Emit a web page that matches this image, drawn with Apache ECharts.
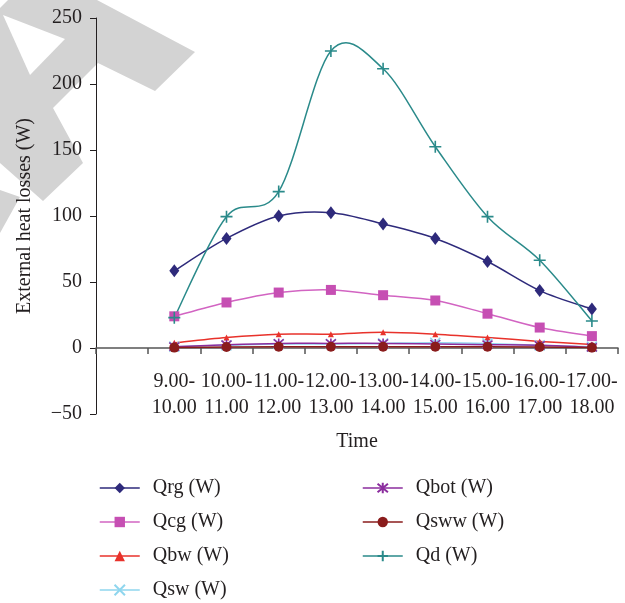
<!DOCTYPE html>
<html>
<head>
<meta charset="utf-8">
<script src="https://cdn.jsdelivr.net/npm/echarts@6/dist/echarts.min.js"></script>
<style>html,body{margin:0;padding:0;background:#fff;}#c{width:625px;height:603px;}</style>
</head>
<body>
<div id="c"></div>
<script>
const categories = ['9.00-\n10.00','10.00-\n11.00','11.00-\n12.00','12.00-\n13.00','13.00-\n14.00','14.00-\n15.00','15.00-\n16.00','16.00-\n17.00','17.00-\n18.00'];
const Qrg  = [58.5, 83, 100, 102.5, 94, 83, 65.5, 43.5, 29.5];
const Qcg  = [24, 34.5, 42, 44, 40, 36, 26, 15.5, 9];
const Qbw  = [4, 8, 10.5, 10.5, 12, 10.5, 8, 5, 2.7];
const Qsw  = [1, 2, 3, 3, 3.5, 4, 3.5, 2, 1];
const Qbot = [1, 2.5, 3.5, 3.5, 3.5, 3, 2.5, 2, 0.5];
const Qsww = [0.3, 0.8, 1, 1, 1, 1, 1, 0.8, 0.3];
const Qd   = [23, 99.5, 118.5, 225, 211.5, 152.5, 99.5, 66.5, 20.5];
const yTicks = {min: -50, max: 250, interval: 50};

const FONT = 'Liberation Serif';
const TXT = '#231f20';

const xCats = [''].concat(categories);
function pad(arr){ return ['-'].concat(arr); }

// Excel-like smoothed curve (Catmull-Rom Bezier) drawn through the axis scales
function curveSeries(data, color, width){
  return {
    type: 'custom', coordinateSystem: 'cartesian2d', silent: true,
    data: data.map((v, k) => [k + 1, v]),
    encode: {x: 0, y: 1},
    renderItem: function(params, api){
      if (params.dataIndex !== 0) return null;
      const p = data.map((v, k) => api.coord([k + 1, v]));
      let d = 'M' + p[0][0] + ' ' + p[0][1];
      for (let i = 0; i < p.length - 1; i++) {
        const p0 = p[Math.max(i - 1, 0)], p1 = p[i], p2 = p[i + 1], p3 = p[Math.min(i + 2, p.length - 1)];
        const c1x = p1[0] + (p2[0] - p0[0]) / 6, c1y = p1[1] + (p2[1] - p0[1]) / 6;
        const c2x = p2[0] - (p3[0] - p1[0]) / 6, c2y = p2[1] - (p3[1] - p1[1]) / 6;
        d += ' C' + c1x + ' ' + c1y + ' ' + c2x + ' ' + c2y + ' ' + p2[0] + ' ' + p2[1];
      }
      return {type: 'path', shape: {pathData: d}, style: {stroke: color, lineWidth: width, fill: null}};
    }
  };
}

function mk(name, data, color, lineColor, symbol, size, strokeSym){
  return {
    name: name, type: 'line', data: pad(data),
    symbol: symbol, symbolSize: size, showAllSymbol: true,
    lineStyle: {color: lineColor, width: 1.5, opacity: 0},
    itemStyle: strokeSym ? {color: color, borderColor: color, borderWidth: 1.6} : {color: color, borderWidth: 0},
    emphasis: {disabled: true}
  };
}
const PLUS = 'path://M5,0L5,10M0,5L10,5';
const XSYM = 'path://M0,0L10,10M10,0L0,10';
const AST = 'path://M5,0L5,10M1,1L9,9M9,1L1,9';

const defs = [
  ['Qrg (W)', Qrg, '#2e2a7b', '#2e2a7b', 'diamond', [10,13], false],
  ['Qcg (W)', Qcg, '#c64fb3', '#d264c2', 'rect', 10, false],
  ['Qbw (W)', Qbw, '#e8322b', '#e8322b', 'triangle', 6, false],
  ['Qsw (W)', Qsw, '#8fd6ee', '#8fd6ee', XSYM, 10, true],
  ['Qbot (W)', Qbot, '#8b2d9e', '#8b2d9e', AST, 10, true],
  ['Qsww (W)', Qsww, '#8a1c1c', '#8a1c1c', 'circle', 10, false],
  ['Qd (W)', Qd, '#2a8a8a', '#2a8a8a', PLUS, 12, true]
];
const series = [];
defs.forEach(d => {
  series.push(curveSeries(d[1], d[3], 1.5));
  series.push(mk.apply(null, d));
});
const names = defs.map(d => d[0]);

const legendCommon = {
  orient: 'vertical', itemWidth: 40, itemHeight: 13, itemGap: 14, padding: 0,
  textStyle: {fontFamily: FONT, fontSize: 20, color: TXT, padding: [0,0,0,8]},
  lineStyle: {opacity: 1, width: 1.5},
  selectedMode: false
};

const chart = echarts.init(document.getElementById('c'), null, {renderer: 'canvas'});
chart.setOption({
  animation: false,
  backgroundColor: '#fff',
  graphic: [
    {type: 'polygon', z: -10, silent: true, shape: {points: [[0,8],[8,0],[97,0],[195,52],[155,91],[98,63],[53,108],[83,163],[43,201],[0,163]]}, style: {fill: '#d3d3d3'}},
    {type: 'polygon', z: -9, silent: true, shape: {points: [[3,15],[65,39],[30,75]]}, style: {fill: '#ffffff'}},
    {type: 'polygon', z: -10, silent: true, shape: {points: [[0,190],[20,197],[0,233]]}, style: {fill: '#d3d3d3'}}
  ],
  grid: {left: 96, right: 7, top: 18, bottom: 189, containLabel: false},
  legend: [
    Object.assign({left: 99, top: 478, data: names.slice(0,3)}, legendCommon),
    Object.assign({left: 99, top: 580, data: names.slice(3,4)}, legendCommon),
    Object.assign({left: 362, top: 478, data: names.slice(4)}, legendCommon)
  ],
  xAxis: {
    type: 'category', data: xCats, boundaryGap: true,
    name: 'Time', nameLocation: 'middle', nameGap: 18,
    nameTextStyle: {fontFamily: FONT, fontSize: 20, color: TXT},
    axisLine: {onZero: true, lineStyle: {color: '#555', width: 1.5}},
    axisTick: {show: true, interval: 0, length: 6, lineStyle: {color: '#555', width: 1.5}},
    axisLabel: {interval: 0, margin: -45, fontFamily: FONT, fontSize: 20, color: TXT, lineHeight: 26},
    splitLine: {show: false}
  },
  yAxis: {
    type: 'value', min: yTicks.min, max: yTicks.max, interval: yTicks.interval,
    name: 'External heat losses (W)', nameLocation: 'middle', nameGap: 61,
    nameTextStyle: {fontFamily: FONT, fontSize: 20, color: TXT},
    axisLine: {show: true, lineStyle: {color: '#231f20', width: 1}},
    axisTick: {show: true, length: 6, lineStyle: {color: '#231f20', width: 1}},
    axisLabel: {margin: 14, fontFamily: FONT, fontSize: 20, color: TXT, formatter: v => String(v).replace('-', '\u2212')},
    splitLine: {show: false}
  },
  series: series
});
</script>
</body>
</html>
